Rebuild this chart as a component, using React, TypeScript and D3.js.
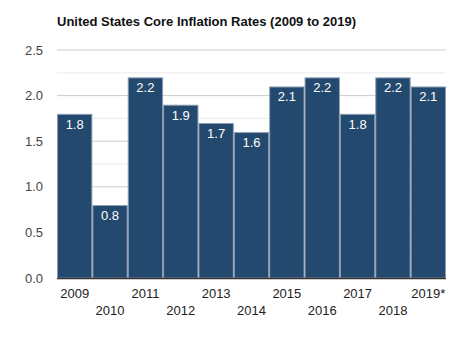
import React from "react";
import * as d3 from "d3";

const years = ["2009", "2010", "2011", "2012", "2013", "2014", "2015", "2016", "2017", "2018", "2019*"];
const rates = [1.8, 0.8, 2.2, 1.9, 1.7, 1.6, 2.1, 2.2, 1.8, 2.2, 2.1];
const yTicks = [0, 0.5, 1.0, 1.5, 2.0, 2.5];
const minorTicks = [0.25, 0.75, 1.25, 1.75, 2.25];

export default function App() {
  const W = 462, H = 341;
  const left = 57, right = 446, top = 50, bottom = 278;
  const x = d3.scaleBand().domain(years).range([left, right]).padding(0);
  const y = d3.scaleLinear().domain([0, 2.5]).range([bottom, top]);
  const font = "'Liberation Sans', Arial, sans-serif";
  return (
    <svg width={W} height={H} style={{ position: "absolute", left: 0, top: 0 }} fontFamily={font}>
      <rect width={W} height={H} fill="#fff" />
      <text x={left} y={26} fontSize={13} fontWeight="bold" fill="#111">
        United States Core Inflation Rates (2009 to 2019)
      </text>
      {minorTicks.map((t) => (
        <line key={"m" + t} x1={left} x2={right} y1={y(t)} y2={y(t)} stroke="#ebebeb" strokeWidth={1} />
      ))}
      {yTicks.map((t) => (
        <g key={t}>
          {t > 0 && <line x1={left} x2={right} y1={y(t)} y2={y(t)} stroke="#cccccc" strokeWidth={1} />}
          <text x={43} y={y(t) + 4.5} fontSize={13} textAnchor="end" fill="#444">
            {t.toFixed(1)}
          </text>
        </g>
      ))}
      {years.map((yr, i) => {
        const bx = x(yr)!;
        const bw = x.bandwidth();
        return (
          <g key={yr}>
            <rect x={bx + 0.5} y={y(rates[i]) + 0.5} width={bw - 1} height={bottom - y(rates[i]) - 0.5}
              fill="#24496f" stroke="#8c9db3" strokeWidth={1} />
            <text x={bx + bw / 2} y={y(rates[i]) + 15} fontSize={13} textAnchor="middle" fill="#fff">
              {rates[i].toFixed(1)}
            </text>
            <text x={bx + bw / 2} y={i % 2 === 0 ? 298 : 315} fontSize={13} textAnchor="middle" fill="#222">
              {yr}
            </text>
          </g>
        );
      })}
      <line x1={left} x2={right} y1={bottom + 0.5} y2={bottom + 0.5} stroke="#333" strokeWidth={1.5} />
    </svg>
  );
}
